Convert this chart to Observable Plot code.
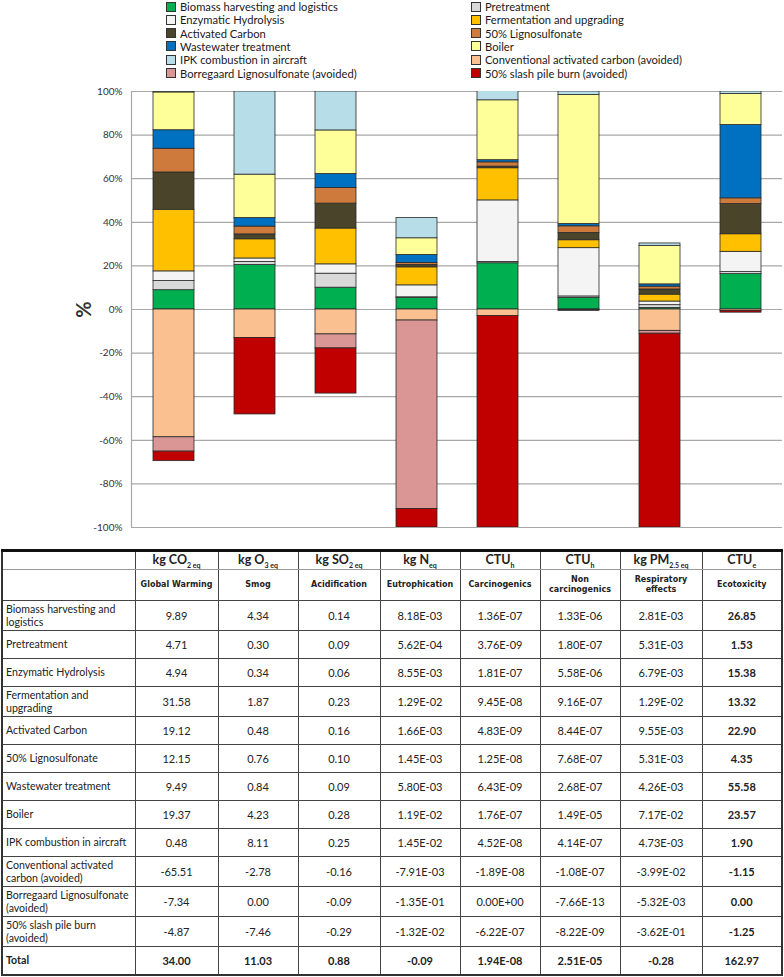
<!DOCTYPE html>
<html>
<head>
<meta charset="utf-8">
<script src="https://cdn.jsdelivr.net/npm/d3@7"></script>
<script src="https://cdn.jsdelivr.net/npm/@observablehq/plot@0.6"></script>
<style>
  html, body { margin: 0; padding: 0; background: #fff; }
  body { width: 784px; font-family: Lato, "Liberation Sans", sans-serif; color: #222; }
  #legend { position: relative; height: 80px; }
  .lg { position: absolute; display: flex; align-items: center; font-size: 11.2px; line-height: 13px; white-space: nowrap; color: #1a1a1a; }
  .lg span.sw { display: inline-block; width: 8px; height: 8px; border: 1px solid #333; margin-right: 4px; }
  #chart svg { display: block; }
  table { border-collapse: collapse; margin-top: 3px; margin-left: 1px; table-layout: fixed; border: 2px solid #333; border-top: 3px solid #111; }
  td, th { border: 1px solid #444; font-size: 11px; text-align: center; padding: 0 2px; color: #222; }
  td.name { text-align: left; padding-left: 3px; font-size: 10.6px; line-height: 13px; white-space: nowrap; overflow: hidden; }
  th { font-weight: bold; }
  th.u { font-size: 12.5px; height: 17px; border-bottom: 1px solid #999; font-family: Lato, sans-serif; }
  th.u sub { font-size: 7px; }
  th.n { font-family: "DejaVu Sans", sans-serif; font-size: 8px; height: 30px; line-height: 10px; }
  tr.one td { height: 27px; }
  tr.two td { height: 29px; }
  td.b, tr.tot td { font-weight: bold; }
</style>
</head>
<body>
<div id="legend"></div>
<div id="chart"></div>
<div id="table"></div>
<script>
const impacts = ["Global Warming", "Smog", "Acidification", "Eutrophication", "Carcinogenics", "Non carcinogenics", "Respiratory effects", "Ecotoxicity"];
const impactHeaders = ["Global Warming", "Smog", "Acidification", "Eutrophication", "Carcinogenics", "Non\ncarcinogenics", "Respiratory\neffects", "Ecotoxicity"];
const unitsHtml = ["kg CO<sub>2 eq</sub>", "kg O<sub>3 eq</sub>", "kg SO<sub>2 eq</sub>", "kg N<sub>eq</sub>", "CTU<sub>h</sub>", "CTU<sub>h</sub>", "kg PM<sub>2.5 eq</sub>", "CTU<sub>e</sub>"];
const processes = [
  "Biomass harvesting and logistics", "Pretreatment", "Enzymatic Hydrolysis", "Fermentation and upgrading",
  "Activated Carbon", "50% Lignosulfonate", "Wastewater treatment", "Boiler", "IPK combustion in aircraft",
  "Conventional activated carbon (avoided)", "Borregaard Lignosulfonate (avoided)", "50% slash pile burn (avoided)"
];
const tableNames = [
  "Biomass harvesting and\nlogistics", "Pretreatment", "Enzymatic Hydrolysis", "Fermentation and\nupgrading",
  "Activated Carbon", "50% Lignosulfonate", "Wastewater treatment", "Boiler", "IPK combustion in aircraft",
  "Conventional activated\ncarbon (avoided)", "Borregaard Lignosulfonate\n(avoided)", "50% slash pile burn\n(avoided)"
];
const colors = ["#00B050", "#D9D9D9", "#F4F4F4", "#FFC000", "#4A452A", "#CD7A3C", "#0070C0", "#FFFF99", "#B7DDE8", "#FAC090", "#D99694", "#C00000"];

const globalWarming = [9.89, 4.71, 4.94, 31.58, 19.12, 12.15, 9.49, 19.37, 0.48, -65.51, -7.34, -4.87];
const smog = [4.34, 0.30, 0.34, 1.87, 0.48, 0.76, 0.84, 4.23, 8.11, -2.78, 0.00, -7.46];
const acidification = [0.14, 0.09, 0.06, 0.23, 0.16, 0.10, 0.09, 0.28, 0.25, -0.16, -0.09, -0.29];
const eutrophication = [8.18e-3, 5.62e-4, 8.55e-3, 1.29e-2, 1.66e-3, 1.45e-3, 5.80e-3, 1.19e-2, 1.45e-2, -7.91e-3, -1.35e-1, -1.32e-2];
const carcinogenics = [1.36e-7, 3.76e-9, 1.81e-7, 9.45e-8, 4.83e-9, 1.25e-8, 6.43e-9, 1.76e-7, 4.52e-8, -1.89e-8, 0, -6.22e-7];
const nonCarcinogenics = [1.33e-6, 1.80e-7, 5.58e-6, 9.16e-7, 8.44e-7, 7.68e-7, 2.68e-7, 1.49e-5, 4.14e-7, -1.08e-7, -7.66e-13, -8.22e-9];
const respiratory = [2.81e-3, 5.31e-3, 6.79e-3, 1.29e-2, 9.55e-3, 5.31e-3, 4.26e-3, 7.17e-2, 4.73e-3, -3.99e-2, -5.32e-3, -3.62e-1];
const ecotoxicity = [26.85, 1.53, 15.38, 13.32, 22.90, 4.35, 55.58, 23.57, 1.90, -1.15, 0.00, -1.25];
const totals = [34.00, 11.03, 0.88, -0.09, 1.94e-8, 2.51e-5, -0.28, 162.97];
// which side's sum the chart uses as 100% for each impact
const scaleBasis = ["pos", "pos", "pos", "neg", "neg", "pos", "neg", "pos"];

const columns = [globalWarming, smog, acidification, eutrophication, carcinogenics, nonCarcinogenics, respiratory, ecotoxicity];
const cellFormat = ["fix", "fix", "fix", "sci", "sci", "sci", "sci", "fix"];
const totalFormat = ["fix", "fix", "fix", "fix", "sci", "sci", "fix", "fix"];
const yTicks = [-1, -0.8, -0.6, -0.4, -0.2, 0, 0.2, 0.4, 0.6, 0.8, 1];

// Legend
const legend = document.getElementById("legend");
processes.forEach((p, i) => {
  const d = document.createElement("div");
  d.className = "lg";
  d.style.left = (i % 2 === 0 ? 166 : 471) + "px";
  d.style.top = (Math.floor(i / 2) * 13.3) + "px";
  d.innerHTML = `<span class="sw" style="background:${colors[i]}"></span>${p}`;
  legend.appendChild(d);
});

// Data: share of the positive or negative total per impact
const rows = [];
impacts.forEach((imp, k) => {
  const vals = columns[k];
  const pos = d3.sum(vals.filter(v => v > 0));
  const neg = -d3.sum(vals.filter(v => v < 0));
  const scale = scaleBasis[k] === "pos" ? pos : neg;
  vals.forEach((v, j) => rows.push({impact: imp, process: processes[j], pct: v / scale}));
});

const chart = Plot.plot({
  width: 784,
  height: 466,
  marginTop: 11,
  marginBottom: 19,
  marginLeft: 131,
  marginRight: 2,
  style: {fontFamily: "Lato, sans-serif", fontSize: "10px", color: "#333"},
  x: {domain: impacts, paddingInner: 0.5, paddingOuter: 0.25, axis: null},
  y: {domain: [-1, 1], axis: null},
  color: {domain: processes, range: colors},
  marks: [
    Plot.gridY(yTicks, {stroke: "#a8a8a8", strokeOpacity: 1, strokeWidth: 1.2}),
    Plot.frame({anchor: "left", stroke: "#a8a8a8", strokeWidth: 1.2}),
    Plot.barY(rows, {x: "impact", y: "pct", fill: "process", stroke: "#2a2a2a", strokeWidth: 0.8, clip: true}),
    Plot.axisY(yTicks, {tickSize: 0, tickPadding: 9, tickFormat: d => Math.round(d * 100) + "%", label: null, fontSize: 10}),
    Plot.axisY([], {label: "%", labelAnchor: "center", labelArrow: "none", labelOffset: 55, fontSize: 20, fontWeight: "bold"})
  ]
});
document.getElementById("chart").appendChild(chart);

// Table
function fix(v) { return v.toFixed(2); }
function sci(v) {
  if (v === 0) return "0.00E+00";
  const [m, e] = v.toExponential(2).split("e");
  const sign = e[0] === "-" ? "-" : "+";
  return m + "E" + sign + e.replace(/[+-]/, "").padStart(2, "0");
}
const fmt = {fix, sci};
const br = s => s.replace("\n", "<br>");
const colW = [133, 83, 80, 82, 80, 80, 80, 82, 80];
let html = "<table><colgroup>" + colW.map(w => `<col style="width:${w}px">`).join("") + "</colgroup>";
html += "<tr><th class='u'></th>" + unitsHtml.map(u => `<th class="u">${u}</th>`).join("") + "</tr>";
html += "<tr><th class='n'></th>" + impactHeaders.map(n => `<th class="n">${br(n)}</th>`).join("") + "</tr>";
tableNames.forEach((name, j) => {
  const two = name.includes("\n");
  html += `<tr class="${two ? "two" : "one"}"><td class="name">${br(name)}</td>`;
  columns.forEach((col, k) => {
    html += `<td${k === 7 ? " class='b'" : ""}>${fmt[cellFormat[k]](col[j])}</td>`;
  });
  html += "</tr>";
});
html += "<tr class='tot one'><td class='name'>Total</td>" + totals.map((t, k) => `<td>${fmt[totalFormat[k]](t)}</td>`).join("") + "</tr>";
html += "</table>";
document.getElementById("table").innerHTML = html;
</script>
</body>
</html>
